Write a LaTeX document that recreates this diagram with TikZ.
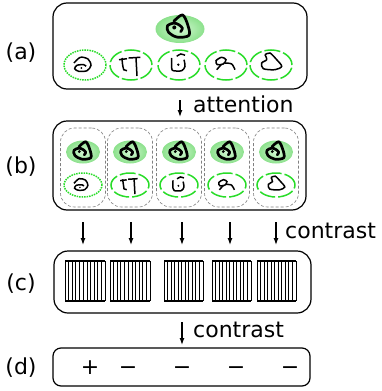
\documentclass[tikz,border=0pt]{standalone}
\usepackage{fontspec}
\setmainfont{DejaVu Sans}
\usepackage{tikz}
\usetikzlibrary{arrows.meta}

\definecolor{selgreen}{RGB}{40,220,40}
\definecolor{qgreen}{RGB}{140,225,140}
\definecolor{qlight}{RGB}{210,247,210}

% handwritten characters, drawn round a centre (#1) at a scale (#2)
\newcommand{\queryglyph}[2]{\begin{scope}[shift={(#1)},scale=#2]
  \draw[line width=2.7pt,line cap=round,line join=round] plot[smooth,tension=.55] coordinates {(1.5,3.5) (3.3,0.3) (0,-3) (-5,-4.7) (-11,-2) (-10,4) (-1.7,8.7) (9.5,7) (8.3,-3) (3.3,-12.5) (-5,-6.3)};
  \fill (-4.5,-0.5) circle (1.9pt);
\end{scope}}
\newcommand{\glyphA}[2]{\begin{scope}[shift={(#1)},scale=#2,line width=1.5pt]
  \draw plot[smooth] coordinates {(-11,-2) (-4.7,-7.7) (3,-6) (6,0.3) (2,5.7) (-6.3,6.3) (-10.3,3.7) (-8,0.3) (-1.3,-0.3) (1,1.3)};
  \fill (-3.7,3) circle (1pt);
\end{scope}}
\newcommand{\glyphB}[2]{\begin{scope}[shift={(#1)},scale=#2,line width=1.5pt]
  \draw (-12,-5.3) -- (-4,-6.3);
  \draw (-9,-7) .. controls (-8.5,0) .. (-7.3,4.7) -- (-4,5.7);
  \draw (-2.3,-7) -- (9.3,-7.7);
  \draw (5,-7) .. controls (5.5,2) .. (6,11);
\end{scope}}
\newcommand{\glyphC}[2]{\begin{scope}[shift={(#1)},scale=#2,line width=1.5pt]
  \draw plot[smooth] coordinates {(-7.3,-7) (-7.3,3) (-5.7,5.7) (2.7,5.7) (6,1.3) (5,-5.3)};
  \draw plot[smooth] coordinates {(-2.3,-8.7) (1.7,-11) (6,-9.7)};
  \fill (-0.7,-0.3) circle (1.3pt);
\end{scope}}
\newcommand{\glyphD}[2]{\begin{scope}[shift={(#1)},scale=#2,line width=1.5pt]
  \draw plot[smooth cycle] coordinates {(-10,-4.3) (-4.3,-7.7) (0,-5.3) (-2.7,-1) (-8.7,-0.3)};
  \draw plot[smooth] coordinates {(-1,-2) (5.7,-1) (9,4.7)};
  \draw (-4.3,-1) -- (-9.3,4.7);
\end{scope}}
\newcommand{\glyphE}[2]{\begin{scope}[shift={(#1)},scale=#2,line width=1.5pt]
  \draw plot[smooth] coordinates {(-6,-10.3) (-1,-12) (5.7,-5.3) (10.7,1.3) (4,4.7) (-7.7,3.7) (-9.3,-2) (-4.3,-5.3) (-6,-10.3)};
\end{scope}}
\newcommand{\hatchbox}[2]{%
  \foreach \i in {0,...,11}
    \draw[line width={(1+mod(\i,2))*0.45pt}] ({#1+\i*(#2-#1)/11},261) -- ({#1+\i*(#2-#1)/11},301);
  \draw[line width=1.8pt] (#1,261) -- (#2,261) (#1,301) -- (#2,301);}

\begin{document}
\begin{tikzpicture}
  [x=1pt,y=-1pt,
   panel/.style={draw,rounded corners=14pt,line width=1.2pt,inner sep=0pt},
   column/.style={draw=gray,densely dashed,rounded corners=14pt,line width=.6pt,inner sep=0pt,minimum width=45pt,minimum height=79pt},
   tag/.style={font=\fontsize{22}{26}\selectfont,inner sep=0pt,anchor=base},
   word/.style={font=\fontsize{22}{26}\selectfont,inner sep=0pt,anchor=base west},
   flow/.style={-{Latex[length=7pt,width=5pt]},line width=1.2pt},
   sel/.style={draw=selgreen,line width=1.5pt,dash pattern=on 16pt off 3pt},
   selfirst/.style={draw=selgreen,line width=1.5pt,densely dotted},
   hl/.style={inner color=qlight,outer color=qgreen}]
  \useasboundingbox (0,0) rectangle (381,391);

  % panels
  \node[panel,minimum width=254pt,minimum height=86pt] (pa) at (180,46) {};
  \node[panel,minimum width=253pt,minimum height=89pt] (pb) at (179.5,165.5) {};
  \node[panel,minimum width=257pt,minimum height=62pt] (pc) at (182.5,282) {};
  \node[panel,rounded corners=8pt,minimum width=257pt,minimum height=38pt] (pd) at (181.5,367) {};

  \node[tag] (la) at (21,59) {(a)};
  \node[tag] (lb) at (21,173) {(b)};
  \node[tag] (lc) at (21,290) {(c)};
  \node[tag] (ld) at (21,374) {(d)};

  % (a) query and candidates
  \shade[hl] (180,29) ellipse (24.5pt and 14pt);
  \queryglyph{179,28}{1.05}
  \draw[selfirst] (85,65) ellipse (21pt and 15pt);
  \draw[sel] (131,65) ellipse (21pt and 15pt);
  \draw[sel] (179,65) ellipse (21pt and 15pt);
  \draw[sel] (226,65) ellipse (21pt and 15pt);
  \draw[sel] (271,65) ellipse (21pt and 15pt);
  \glyphA{85,65}{1}
  \glyphB{131,65}{1}
  \glyphC{179,65}{1}
  \glyphD{226,65}{1}
  \glyphE{271,65}{1}

  \coordinate (attTop) at (180,100);
  \coordinate (attEnd) at (180,117);
  \draw[flow] (attTop) -- (attEnd);
  \node[word] (att) at (193,112) {attention};

  % (b) pairs
  \foreach \cx [count=\k] in {83,130,179,227,276} {
    \node[column] (col\k) at (\cx,167.5) {};
    \shade[hl] (\cx,152) ellipse (17pt and 11.5pt);
    \queryglyph{\cx,152}{0.82}
  }
  \draw[selfirst] (83,185) ellipse (19pt and 12pt);
  \draw[sel] (130,185) ellipse (19pt and 12pt);
  \draw[sel] (179,185) ellipse (19pt and 12pt);
  \draw[sel] (227,185) ellipse (19pt and 12pt);
  \draw[sel] (276,185) ellipse (19pt and 12pt);
  \glyphA{83,185}{.82}
  \glyphB{130,185}{.82}
  \glyphC{179,186}{.82}
  \glyphD{227,186}{.82}
  \glyphE{276,186}{.82}

  \foreach \cx [count=\k] in {83,131,182,230,276} {
    \coordinate (ct\k) at (\cx,222);
    \coordinate (cb\k) at (\cx,245);
    \draw[flow] (ct\k) -- (cb\k);
  }
  \node[word] (con1) at (285,238) {contrast};

  % (c) features
  \hatchbox{65}{105}
  \hatchbox{110}{150}
  \hatchbox{164}{203}
  \hatchbox{212}{251}
  \hatchbox{257}{296}

  \coordinate (ft) at (182,322);
  \coordinate (fb) at (182,345);
  \draw[flow] (ft) -- (fb);
  \node[word] (con2) at (193,337) {contrast};

  % (d) labels
  \node[tag] (s1) at (90,374) {+};
  \node[tag] (s2) at (128,374) {−};
  \node[tag] (s3) at (182,374) {−};
  \node[tag] (s4) at (236,374) {−};
  \node[tag] (s5) at (290,374) {−};
\end{tikzpicture}
\end{document}
